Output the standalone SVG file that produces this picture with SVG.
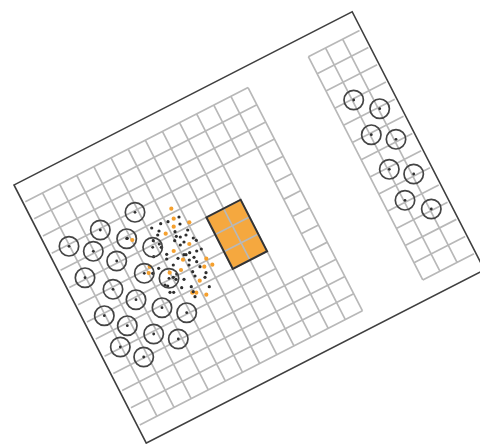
<svg xmlns="http://www.w3.org/2000/svg" width="480" height="444" viewBox="0 0 480 444">
<style>
.g{fill:none;stroke:#b8b8b8;stroke-width:1.7}
.f{fill:none;stroke:#3f3f3f;stroke-width:1.6}
.e{fill:none;stroke:#333;stroke-width:2}
.c{fill:none;stroke:#444;stroke-width:1.7}
.k{fill:#2e2e2e}
.o{fill:#f5a02e}
</style>
<defs>
<g id="well"><circle class="c" r="9.7"/><circle class="k" r="1.4"/></g>
</defs>
<rect width="480" height="444" fill="#fff"/>
<g id="plan" transform="translate(14 185) rotate(-27.13)">
<rect id="frame" class="f" x="0" y="0" width="380" height="290"/>
<rect id="block" x="156.5" y="116.5" width="38.5" height="57.9" fill="#f5a83f"/>
<path id="grid-left" class="g" d="M2.5 20H252.75M2.5 39.3H252.75M2.5 58.6H252.75M2.5 77.9H252.75M2.5 97.2H195M233.5 97.2H252.75M2.5 116.5H195M233.5 116.5H252.75M2.5 135.8H195M233.5 135.8H252.75M2.5 155.1H195M233.5 155.1H252.75M2.5 174.4H195M233.5 174.4H252.75M2.5 193.7H195M233.5 193.7H252.75M2.5 213H252.75M2.5 232.3H252.75M2.5 251.6H252.75M2.5 270.9H252.75M21.75 20V270.9M41 20V270.9M60.25 20V270.9M79.5 20V270.9M98.75 20V270.9M118 20V270.9M137.25 20V270.9M156.5 20V270.9M175.75 20V270.9M195 20V270.9M214.25 20V77.9M214.25 213V270.9M233.5 20V270.9M252.75 20V270.9"/>
<path id="grid-right" class="g" d="M320.5 20H378M320.5 39.3H378M320.5 58.6H378M320.5 77.9H378M320.5 97.2H378M320.5 116.5H378M320.5 135.8H378M320.5 155.1H378M320.5 174.4H378M320.5 193.7H378M320.5 213H378M320.5 232.3H378M320.5 251.6H378M320.5 270.9H378M320.5 20V270.9M339.75 20V270.9M359 20V270.9"/>
<rect id="block-edge" class="e" x="156.5" y="116.5" width="38.5" height="57.9"/>
</g>
<g id="orange-dots" class="o">
<circle cx="171.3" cy="208.7" r="2.1"/><circle cx="173.7" cy="218.7" r="2.1"/><circle cx="189.3" cy="222.3" r="2.1"/><circle cx="173.7" cy="226.7" r="2.1"/><circle cx="165.7" cy="233.7" r="2.1"/><circle cx="189.3" cy="244" r="2.1"/><circle cx="132.3" cy="240" r="2.1"/><circle cx="173.7" cy="251" r="2.1"/><circle cx="183" cy="259.7" r="2.1"/><circle cx="206.3" cy="258.7" r="2.1"/><circle cx="212.3" cy="264.7" r="2.1"/><circle cx="204.3" cy="266.7" r="2.1"/><circle cx="149.7" cy="266.7" r="2.1"/><circle cx="148.7" cy="273" r="2.1"/><circle cx="169.7" cy="272.7" r="2.1"/><circle cx="181" cy="270" r="2.1"/><circle cx="199.7" cy="280.7" r="2.1"/><circle cx="192.3" cy="292.7" r="2.1"/><circle cx="196.3" cy="292.7" r="2.1"/><circle cx="206.3" cy="294.7" r="2.1"/>
</g>
<g id="black-dots" class="k">
<circle cx="179" cy="217" r="1.6"/><circle cx="168" cy="221.7" r="1.6"/><circle cx="160.7" cy="223.7" r="1.6"/><circle cx="151.7" cy="228" r="1.6"/><circle cx="180" cy="224" r="1.6"/><circle cx="159" cy="231" r="1.6"/><circle cx="157.7" cy="235" r="1.6"/><circle cx="175" cy="231.7" r="1.6"/><circle cx="187.7" cy="230" r="1.6"/><circle cx="186" cy="235" r="1.6"/><circle cx="180.3" cy="237" r="1.6"/><circle cx="176.3" cy="236.3" r="1.6"/><circle cx="174.7" cy="240.7" r="1.6"/><circle cx="184" cy="242" r="1.6"/><circle cx="193.3" cy="238" r="1.6"/><circle cx="196.3" cy="240.3" r="1.6"/><circle cx="180.3" cy="245" r="1.6"/><circle cx="153.3" cy="240.7" r="1.6"/><circle cx="159.3" cy="244" r="1.6"/><circle cx="161.3" cy="247.3" r="1.6"/><circle cx="201.3" cy="249" r="1.6"/><circle cx="196.7" cy="251" r="1.6"/><circle cx="166.7" cy="254.3" r="1.6"/><circle cx="184" cy="254.7" r="1.6"/><circle cx="186" cy="254.7" r="1.6"/><circle cx="189.7" cy="252.7" r="1.6"/><circle cx="194" cy="257.3" r="1.6"/><circle cx="166.7" cy="259" r="1.6"/><circle cx="178" cy="258.3" r="1.6"/><circle cx="189.3" cy="260" r="1.6"/><circle cx="196.7" cy="261.7" r="1.6"/><circle cx="153.7" cy="256.7" r="1.6"/><circle cx="173.3" cy="265" r="1.6"/><circle cx="189" cy="265" r="1.6"/><circle cx="200" cy="266.7" r="1.6"/><circle cx="158.7" cy="268.3" r="1.6"/><circle cx="152.7" cy="273.3" r="1.6"/><circle cx="206" cy="272.7" r="1.6"/><circle cx="205" cy="277.3" r="1.6"/><circle cx="192.7" cy="271.7" r="1.6"/><circle cx="195" cy="276" r="1.6"/><circle cx="176.7" cy="274" r="1.6"/><circle cx="173.3" cy="277.3" r="1.6"/><circle cx="176" cy="279.3" r="1.6"/><circle cx="184" cy="279.3" r="1.6"/><circle cx="165" cy="285" r="1.6"/><circle cx="167.7" cy="286" r="1.6"/><circle cx="181.7" cy="287.7" r="1.6"/><circle cx="191.3" cy="286.7" r="1.6"/><circle cx="209.3" cy="286.7" r="1.6"/><circle cx="193.3" cy="291.7" r="1.6"/><circle cx="170" cy="292.3" r="1.6"/><circle cx="173.7" cy="292.3" r="1.6"/><circle cx="195" cy="296.7" r="1.6"/><circle cx="127.3" cy="238.3" r="1.6"/>
</g>
<g id="wells-left">
<use id="w1" href="#well" x="135" y="212.3"/><use id="w2" href="#well" x="100.3" y="230"/><use id="w3" href="#well" x="126.7" y="238.7"/><use id="w4" href="#well" x="69" y="246.3"/><use id="w5" href="#well" x="93.3" y="251.3"/><use id="w6" href="#well" x="152.7" y="247.3"/><use id="w7" href="#well" x="116.7" y="261"/><use id="w8" href="#well" x="144.3" y="273.3"/><use id="w9" href="#well" x="85" y="277.7"/><use id="w10" href="#well" x="169" y="278.3"/><use id="w11" href="#well" x="113" y="289.3"/><use id="w12" href="#well" x="136" y="299.7"/><use id="w13" href="#well" x="162" y="307.7"/><use id="w14" href="#well" x="186.7" y="312.7"/><use id="w15" href="#well" x="104.3" y="315.7"/><use id="w16" href="#well" x="127.3" y="325.7"/><use id="w17" href="#well" x="153.7" y="334"/><use id="w18" href="#well" x="178.3" y="339"/><use id="w19" href="#well" x="120.3" y="347"/><use id="w20" href="#well" x="143.7" y="357"/>
</g>
<g id="wells-right">
<use id="r1" href="#well" x="353.7" y="100"/><use id="r2" href="#well" x="379.7" y="108.7"/><use id="r3" href="#well" x="371.3" y="134.7"/><use id="r4" href="#well" x="396" y="139.3"/><use id="r5" href="#well" x="389.3" y="169.3"/><use id="r6" href="#well" x="413.7" y="174"/><use id="r7" href="#well" x="405" y="200.3"/><use id="r8" href="#well" x="431.3" y="209"/>
</g>
</svg>
